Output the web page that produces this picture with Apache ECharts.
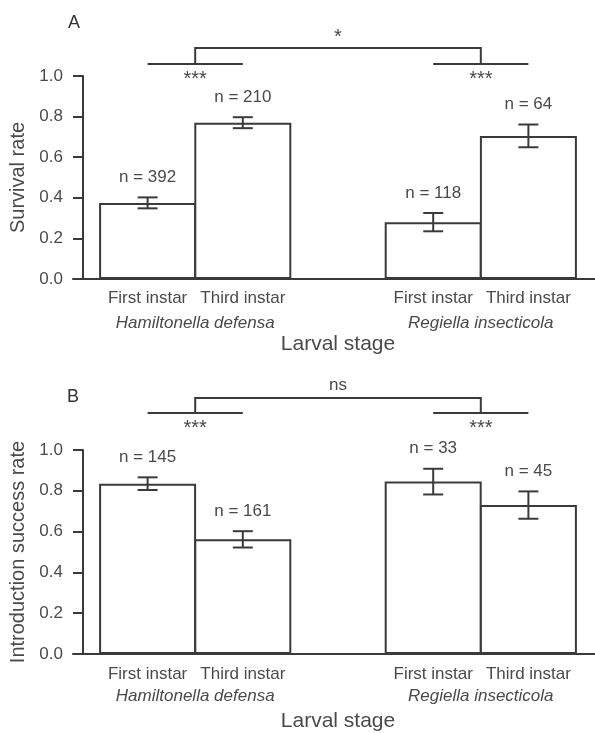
<!DOCTYPE html>
<html>
<head>
<meta charset="utf-8">
<script src="https://cdn.jsdelivr.net/npm/echarts@6/dist/echarts.min.js"></script>
<style>
html,body{margin:0;padding:0;background:#fff;}
#chart{width:595px;height:733px;}
</style>
</head>
<body>
<div id="chart"></div>
<script>
// ---- data ----
const stages = ['First instar', 'Third instar'];
const species = ['Hamiltonella defensa', 'Regiella insecticola'];
const yTicks = [0, 0.2, 0.4, 0.6, 0.8, 1.0];

const survivalMean = [0.375, 0.77, 0.28, 0.705];
const survivalErr  = [0.027, 0.027, 0.045, 0.056];
const survivalN    = [392, 210, 118, 64];

const introMean = [0.835, 0.562, 0.845, 0.73];
const introErr  = [0.031, 0.04, 0.063, 0.067];
const introN    = [145, 161, 33, 45];

// significance annotations: [within species 1, within species 2], between species
const survivalSigWithin = ['***', '***'];
const survivalSigBetween = '*';
const introSigWithin = ['***', '***'];
const introSigBetween = 'ns';
// bracket heights (in y-data units): [upper bar, lower bars]
const survivalBracket = [1.138, 1.059];
const introBracket = [1.255, 1.181];

// ---- layout helpers ----
const FONT = "'Liberation Sans', Arial, sans-serif";
const TXT = '#4a4a4a';
const LINE = '#3a3a3a';
const slotIdx = [0, 1, 3, 4]; // bar slots on the category axis (slot 2 is the gap)
const catLabels = [stages[0], stages[1], '', stages[0], stages[1]];
const speciesSlots = ['', species[0], '', '', species[1], ''];

function barData(means) {
  const d = ['-', '-', '-', '-', '-'];
  means.forEach((m, i) => { d[slotIdx[i]] = m; });
  return d;
}
function errData(means, errs, ns) {
  return means.map((m, i) => [slotIdx[i], m, errs[i], ns[i]]);
}

function errRender(params, api) {
  const x = api.value(0), m = api.value(1), e = api.value(2), n = api.value(3);
  const top = api.coord([x, m + e]);
  const bot = api.coord([x, m - e]);
  const cap = 10;
  const st = { stroke: LINE, lineWidth: 2 };
  return {
    type: 'group',
    children: [
      { type: 'line', shape: { x1: top[0], y1: top[1], x2: bot[0], y2: bot[1] }, style: st },
      { type: 'line', shape: { x1: top[0] - cap, y1: top[1], x2: top[0] + cap, y2: top[1] }, style: st },
      { type: 'line', shape: { x1: bot[0] - cap, y1: bot[1], x2: bot[0] + cap, y2: bot[1] }, style: st },
      { type: 'text', x: top[0], y: top[1] - 20,
        style: { text: 'n = ' + n, align: 'center', verticalAlign: 'middle',
                 font: "17px " + FONT, fill: TXT } }
    ]
  };
}

function makeBracketRender(levels, within, between) {
  return function (params, api) {
    const low = levels[1], hi = levels[0];
    const p0 = api.coord([slotIdx[0], low]), p1 = api.coord([slotIdx[1], low]);
    const p3 = api.coord([slotIdx[2], low]), p4 = api.coord([slotIdx[3], low]);
    const yHi = api.coord([slotIdx[0], hi])[1];
    const yLo = p0[1];
    const lm = (p0[0] + p1[0]) / 2, rm = (p3[0] + p4[0]) / 2;
    const st = { stroke: LINE, lineWidth: 2, fill: null };
    const isStar = between.indexOf('*') >= 0;
    return {
      type: 'group',
      children: [
        { type: 'line', shape: { x1: p0[0], y1: yLo, x2: p1[0], y2: yLo }, style: st },
        { type: 'line', shape: { x1: p3[0], y1: yLo, x2: p4[0], y2: yLo }, style: st },
        { type: 'polyline', shape: { points: [[lm, yLo], [lm, yHi], [rm, yHi], [rm, yLo]] }, style: st },
        { type: 'text', x: lm, y: yLo + 15,
          style: { text: within[0], align: 'center', verticalAlign: 'middle', font: "20px " + FONT, fill: TXT } },
        { type: 'text', x: rm, y: yLo + 15,
          style: { text: within[1], align: 'center', verticalAlign: 'middle', font: "20px " + FONT, fill: TXT } },
        { type: 'text', x: (lm + rm) / 2, y: yHi - (isStar ? 11 : 13),
          style: { text: between, align: 'center', verticalAlign: 'middle',
                   font: (isStar ? "20px " : "17px ") + FONT, fill: TXT } }
      ]
    };
  };
}

function catAxis(gridIndex, margin, nameGap) {
  return {
    type: 'category', gridIndex: gridIndex, position: 'bottom', data: catLabels,
    axisLine: { show: false }, axisTick: { show: false }, splitLine: { show: false },
    axisLabel: { interval: 0, margin: margin, fontSize: 17, color: TXT, fontFamily: FONT },
    name: 'Larval stage', nameLocation: 'middle', nameGap: nameGap,
    nameTextStyle: { fontSize: 21, color: TXT, fontFamily: FONT }
  };
}
function speciesAxis(gridIndex, margin) {
  return {
    type: 'category', gridIndex: gridIndex, position: 'bottom', data: speciesSlots, boundaryGap: false,
    axisLine: { show: false }, axisTick: { show: false }, splitLine: { show: false },
    axisLabel: { interval: 0, margin: margin, fontSize: 17, fontStyle: 'italic', color: TXT, fontFamily: FONT }
  };
}
function baseLineAxis(gridIndex) {
  return {
    type: 'value', gridIndex: gridIndex, position: 'bottom', min: 0, max: 1,
    axisLine: { show: true, onZero: false, lineStyle: { color: LINE, width: 2 } },
    axisTick: { show: false }, axisLabel: { show: false }, splitLine: { show: false }
  };
}
function valAxis(gridIndex, name) {
  return {
    type: 'value', gridIndex: gridIndex, min: yTicks[0], max: yTicks[yTicks.length - 1], interval: 0.2,
    offset: 17,
    axisLine: { show: true, lineStyle: { color: LINE, width: 2 } },
    axisTick: { show: true, inside: false, length: 10, lineStyle: { color: LINE, width: 2 } },
    axisLabel: { margin: 20, fontSize: 17, color: TXT, fontFamily: FONT, formatter: v => v.toFixed(1) },
    splitLine: { show: false },
    name: name, nameLocation: 'middle', nameGap: 44, nameRotate: 90,
    nameTextStyle: { fontSize: 20, color: TXT, fontFamily: FONT }
  };
}
function hiddenAxis(gridIndex) {
  return { type: 'value', gridIndex: gridIndex, min: 0, max: 1, show: false };
}

const chart = echarts.init(document.getElementById('chart'), null, { renderer: 'canvas' });
chart.setOption({
  animation: false,
  backgroundColor: '#fff',
  title: [
    { text: 'A', left: 68, top: 14, padding: 0, textStyle: { fontSize: 18, fontWeight: 'normal', color: '#333', fontFamily: FONT } },
    { text: 'B', left: 67, top: 388, padding: 0, textStyle: { fontSize: 18, fontWeight: 'normal', color: '#333', fontFamily: FONT } }
  ],
  grid: [
    { left: 100, right: 19, top: 76, height: 203, outerBoundsMode: 'none', containLabel: false },
    { left: 100, right: 19, top: 450, height: 204, outerBoundsMode: 'none', containLabel: false },
    { left: 73, right: 0, top: 76, height: 203, outerBoundsMode: 'none', containLabel: false },
    { left: 73, right: 0, top: 450, height: 204, outerBoundsMode: 'none', containLabel: false }
  ],
  xAxis: [
    catAxis(0, 11, 55),
    speciesAxis(0, 36),
    catAxis(1, 12, 57),
    speciesAxis(1, 34),
    baseLineAxis(2),
    baseLineAxis(3)
  ],
  yAxis: [
    valAxis(0, 'Survival rate'),
    valAxis(1, 'Introduction success rate'),
    hiddenAxis(2),
    hiddenAxis(3)
  ],
  series: [
    { type: 'bar', xAxisIndex: 0, yAxisIndex: 0, data: barData(survivalMean), barWidth: 97,
      itemStyle: { color: '#fff', borderColor: LINE, borderWidth: 2 }, silent: true },
    { type: 'custom', xAxisIndex: 0, yAxisIndex: 0, data: errData(survivalMean, survivalErr, survivalN),
      encode: { x: 0, y: 1 }, renderItem: errRender, silent: true, clip: false, z: 5 },
    { type: 'custom', xAxisIndex: 0, yAxisIndex: 0, data: [[0, 0.5]], encode: { x: 0, y: 1 },
      renderItem: makeBracketRender(survivalBracket, survivalSigWithin, survivalSigBetween), silent: true, clip: false, z: 5 },

    { type: 'bar', xAxisIndex: 2, yAxisIndex: 1, data: barData(introMean), barWidth: 97,
      itemStyle: { color: '#fff', borderColor: LINE, borderWidth: 2 }, silent: true },
    { type: 'custom', xAxisIndex: 2, yAxisIndex: 1, data: errData(introMean, introErr, introN),
      encode: { x: 0, y: 1 }, renderItem: errRender, silent: true, clip: false, z: 5 },
    { type: 'custom', xAxisIndex: 2, yAxisIndex: 1, data: [[0, 0.5]], encode: { x: 0, y: 1 },
      renderItem: makeBracketRender(introBracket, introSigWithin, introSigBetween), silent: true, clip: false, z: 5 }
  ]
});
</script>
</body>
</html>
